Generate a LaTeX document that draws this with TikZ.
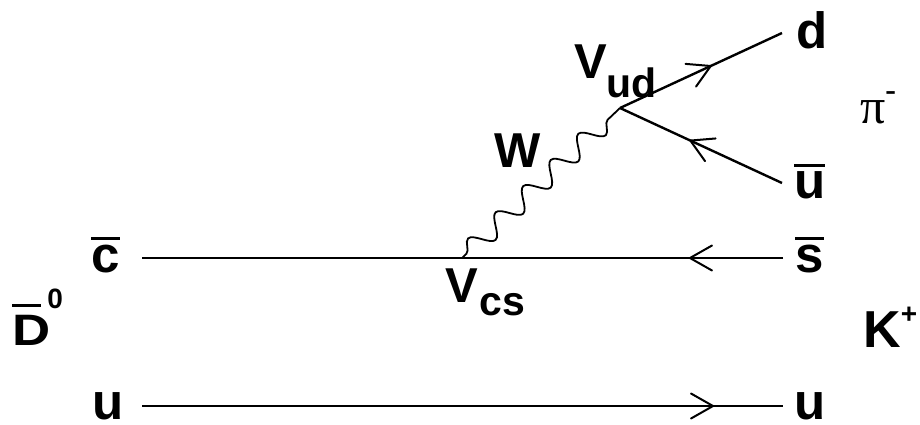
\documentclass[tikz,border=0pt]{standalone}
\usepackage{fontspec}
\usepackage{graphicx}
\setmainfont{Liberation Sans}
\newfontfamily\grk{Liberation Serif}
\usetikzlibrary{decorations.pathmorphing,decorations.markings}
\newcommand\obar[2][4.5pt]{\vbox{\hrule height 2.6pt\kern#1\hbox{#2}}}
\newcommand\fs[1]{\fontsize{#1}{#1}\selectfont}
\begin{document}
\begin{tikzpicture}[x=1pt,y=-1pt,
  lbl/.style={inner sep=0pt,anchor=base west,font=\bfseries\fs{51}},
  quark/.style={line width=2.4pt},
  chev/.style={postaction={decorate},decoration={markings,mark=at position #1 with {\draw[line width=2pt,line cap=round] (-22pt,12.5pt)--(0pt,0pt)--(-22pt,-12.5pt);}}},
  boson/.style={line width=1.8pt,decorate,decoration={snake,segment length=38pt,amplitude=10pt,pre length=6pt,post length=6pt}}]
\useasboundingbox (0,0) rectangle (920,424);
% vertices and line ends
\coordinate (cL) at (142,258);
\coordinate (sR) at (783,258);
\coordinate (Vcs) at (462,258);
\coordinate (Vud) at (620,108);
\coordinate (dE) at (782,33);
\coordinate (ubE) at (782,183);
\coordinate (uL) at (142,406);
\coordinate (uR) at (783,406);
% quark lines
\draw[quark,chev=93pt] (sR) -- (cL);
\draw[quark,chev=571pt] (uL) -- (uR);
\draw[quark,chev=100pt] (Vud) -- (dE);
\draw[quark,chev=101pt] (ubE) -- (Vud);
% W boson
\draw[boson] (Vcs) -- (Vud);
% labels
\node[lbl] (cbar) at (91,272) {\obar{c}};
\node[lbl] (sbar) at (795,272) {\obar{s}};
\node[lbl] (dlab) at (796,48) {d};
\node[lbl] (ubar) at (794,198) {\obar{u}};
\node[lbl] (uLlab) at (92,419) {u};
\node[lbl] (uRlab) at (794,419) {u};
\node[lbl,font=\bfseries\fs{49}] (Wlab) at (494,167) {W};
\node[lbl,font=\bfseries\fs{49}] (lVud) at (574,78) {V\raisebox{-19pt}{\fs{41}ud}};
\node[lbl,font=\bfseries\fs{49}] (lVcs) at (445,302) {V\hspace{2pt}\raisebox{-13pt}{\fs{41}cs}};
\node[lbl,font=\bfseries\fs{44}] (Dlab) at (12,345) {\vbox{\hrule height 2.6pt width 29pt\kern 8pt\hbox{\scalebox{1.2}[1]{D}}}\hspace{-3pt}\raisebox{37pt}{\fs{28}0}};
\node[lbl,font=\bfseries\fs{52}] (Klab) at (863,347) {K\raisebox{24pt}{\fs{28}+}};
\node[inner sep=0pt,anchor=base west,font=\grk\fs{50}] (pilab) at (860,123) {π\raisebox{23pt}{\bfseries\fs{32}-}};
\end{tikzpicture}
\end{document}
